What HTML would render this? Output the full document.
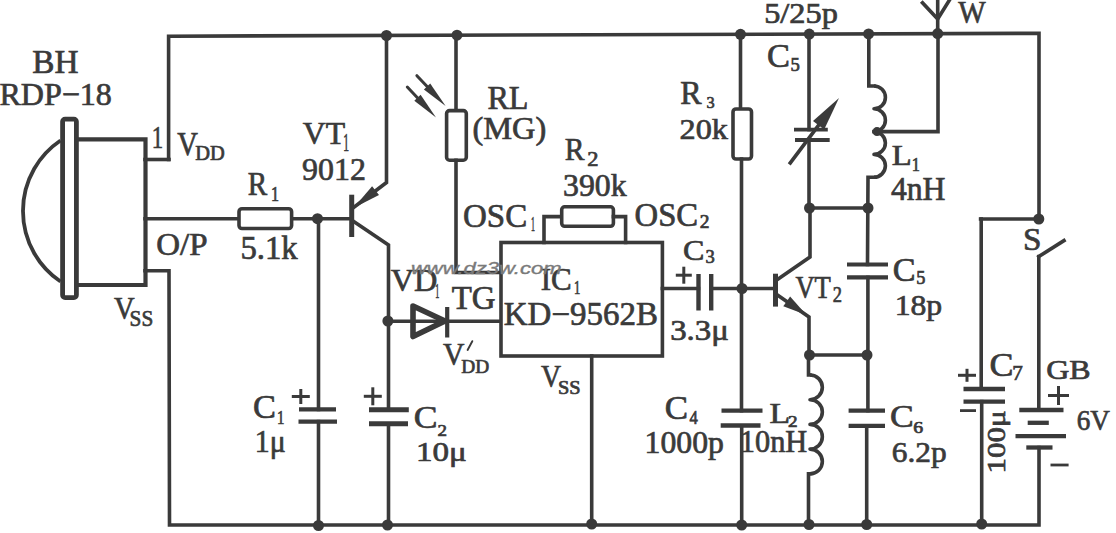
<!DOCTYPE html>
<html><head><meta charset="utf-8"><style>
html,body{margin:0;padding:0;background:#fff;}
body{width:1116px;height:533px;overflow:hidden;}
svg{display:block;}
</style></head><body>
<svg width="1116" height="533" viewBox="0 0 1116 533">
<rect width="1116" height="533" fill="#fff"/>
<path d="M168.6 159.5 L168.6 36.2 L1039.0 33.3 L1039.0 219.0" fill="none" stroke="#3a3a3a" stroke-width="3.6" stroke-linecap="square" stroke-linejoin="miter"/>
<path d="M145.0 159.5 L169.0 159.5" fill="none" stroke="#3a3a3a" stroke-width="3.6" stroke-linecap="square" stroke-linejoin="miter"/>
<path d="M145.0 218.7 L239.0 218.7" fill="none" stroke="#3a3a3a" stroke-width="3.6" stroke-linecap="square" stroke-linejoin="miter"/>
<path d="M291.6 218.7 L352.0 218.7" fill="none" stroke="#3a3a3a" stroke-width="3.6" stroke-linecap="square" stroke-linejoin="miter"/>
<path d="M145.0 270.7 L169.0 270.7 L169.5 525.0 L1039.0 525.0 L1039.0 447.6" fill="none" stroke="#3a3a3a" stroke-width="3.6" stroke-linecap="square" stroke-linejoin="miter"/>
<rect x="62.6" y="119.1" width="13.8" height="178.5" rx="2.5" fill="#fff" stroke="#3a3a3a" stroke-width="4.8"/>
<path d="M76.4 139.3 L145.5 139.3 L145.5 285.0 L76.4 285.0" fill="none" stroke="#3a3a3a" stroke-width="4.2" stroke-linecap="butt" stroke-linejoin="miter"/>
<path d="M60.5 140.5 A85 85 0 0 0 60.5 281.5" fill="none" stroke="#3a3a3a" stroke-width="3.8" stroke-linecap="butt" stroke-linejoin="round"/>
<rect x="239.0" y="208.7" width="52.6" height="19.8" rx="3" fill="#fff" stroke="#3a3a3a" stroke-width="3.6"/>
<circle cx="317.5" cy="218.7" r="5.5" fill="#3a3a3a"/>
<path d="M318.5 218.7 L318.5 409.4" fill="none" stroke="#3a3a3a" stroke-width="3.6" stroke-linecap="square" stroke-linejoin="miter"/>
<path d="M318.5 421.6 L318.5 525.0" fill="none" stroke="#3a3a3a" stroke-width="3.6" stroke-linecap="square" stroke-linejoin="miter"/>
<path d="M299.0 409.4 L336.0 409.4" fill="none" stroke="#3a3a3a" stroke-width="4.3" stroke-linecap="butt" stroke-linejoin="miter"/>
<path d="M298.5 421.6 L337.0 421.6" fill="none" stroke="#3a3a3a" stroke-width="4.3" stroke-linecap="butt" stroke-linejoin="miter"/>
<circle cx="318.5" cy="525.5" r="5.5" fill="#3a3a3a"/>
<path d="M351.7 194.7 L351.7 237.0" fill="none" stroke="#3a3a3a" stroke-width="5" stroke-linecap="butt" stroke-linejoin="miter"/>
<path d="M353.0 208.0 L386.5 182.5 L386.5 35.5" fill="none" stroke="#3a3a3a" stroke-width="3.6" stroke-linecap="square" stroke-linejoin="miter"/>
<polygon points="353.5,208.0 379.0,195.1 372.1,186.3" fill="#3a3a3a" stroke="#3a3a3a" stroke-width="0" stroke-linejoin="round"/>
<path d="M353.0 221.0 L388.5 245.0 L388.5 409.8" fill="none" stroke="#3a3a3a" stroke-width="3.6" stroke-linecap="square" stroke-linejoin="miter"/>
<circle cx="386.5" cy="35.5" r="5.5" fill="#3a3a3a"/>
<circle cx="387.9" cy="321.0" r="5.5" fill="#3a3a3a"/>
<path d="M369.0 409.8 L408.8 409.8" fill="none" stroke="#3a3a3a" stroke-width="5" stroke-linecap="butt" stroke-linejoin="miter"/>
<path d="M369.0 423.8 L408.0 423.8" fill="none" stroke="#3a3a3a" stroke-width="5" stroke-linecap="butt" stroke-linejoin="miter"/>
<path d="M388.5 423.8 L388.5 525.0" fill="none" stroke="#3a3a3a" stroke-width="3.6" stroke-linecap="square" stroke-linejoin="miter"/>
<circle cx="387.5" cy="525.0" r="5.5" fill="#3a3a3a"/>
<path d="M387.9 321.3 L501.0 321.3" fill="none" stroke="#3a3a3a" stroke-width="3.6" stroke-linecap="square" stroke-linejoin="miter"/>
<path d="M413 306 L445 321 L413 336.5 Z" fill="none" stroke="#3a3a3a" stroke-width="5.6" stroke-linecap="butt" stroke-linejoin="round"/>
<path d="M447.2 307.0 L447.2 337.5" fill="none" stroke="#3a3a3a" stroke-width="4.2" stroke-linecap="butt" stroke-linejoin="miter"/>
<circle cx="457.0" cy="35.2" r="5.5" fill="#3a3a3a"/>
<path d="M456.0 35.2 L456.0 110.6" fill="none" stroke="#3a3a3a" stroke-width="3.6" stroke-linecap="square" stroke-linejoin="miter"/>
<rect x="446.6" y="110.6" width="19.7" height="49.6" rx="3" fill="#fff" stroke="#3a3a3a" stroke-width="3.6"/>
<path d="M456.0 160.2 L456.0 272.5 L501.0 272.5" fill="none" stroke="#3a3a3a" stroke-width="3.6" stroke-linecap="square" stroke-linejoin="miter"/>
<path d="M416.9 75.7 L430.0 89.5" fill="none" stroke="#3a3a3a" stroke-width="3.0" stroke-linecap="round" stroke-linejoin="miter"/>
<polygon points="445.6,106.1 430.2,83.5 423.9,89.4" fill="#3a3a3a" stroke="#3a3a3a" stroke-width="0" stroke-linejoin="round"/>
<path d="M407.3 87.0 L420.0 100.5" fill="none" stroke="#3a3a3a" stroke-width="3.0" stroke-linecap="round" stroke-linejoin="miter"/>
<polygon points="436.0,117.4 420.6,94.8 414.3,100.7" fill="#3a3a3a" stroke="#3a3a3a" stroke-width="0" stroke-linejoin="round"/>
<rect x="501.0" y="242.5" width="161.4" height="113.5" rx="0" fill="#fff" stroke="#3a3a3a" stroke-width="3.6"/>
<path d="M544.0 242.5 L544.0 216.6 L561.7 216.6" fill="none" stroke="#3a3a3a" stroke-width="3.6" stroke-linecap="square" stroke-linejoin="miter"/>
<rect x="561.7" y="206.8" width="51.7" height="19.5" rx="3" fill="#fff" stroke="#3a3a3a" stroke-width="3.6"/>
<path d="M613.4 216.6 L625.6 216.6 L625.6 242.5" fill="none" stroke="#3a3a3a" stroke-width="3.6" stroke-linecap="square" stroke-linejoin="miter"/>
<path d="M591.7 356.0 L591.7 525.0" fill="none" stroke="#3a3a3a" stroke-width="3.6" stroke-linecap="square" stroke-linejoin="miter"/>
<circle cx="591.7" cy="524.0" r="5.5" fill="#3a3a3a"/>
<path d="M662.4 288.5 L698.5 288.5" fill="none" stroke="#3a3a3a" stroke-width="3.6" stroke-linecap="square" stroke-linejoin="miter"/>
<path d="M698.5 274.0 L698.5 310.5" fill="none" stroke="#3a3a3a" stroke-width="4.4" stroke-linecap="butt" stroke-linejoin="miter"/>
<path d="M711.2 274.0 L711.2 310.5" fill="none" stroke="#3a3a3a" stroke-width="4.4" stroke-linecap="butt" stroke-linejoin="miter"/>
<path d="M711.2 288.5 L776.0 288.5" fill="none" stroke="#3a3a3a" stroke-width="3.6" stroke-linecap="square" stroke-linejoin="miter"/>
<circle cx="740.5" cy="34.3" r="5.5" fill="#3a3a3a"/>
<path d="M740.5 34.3 L740.5 109.0" fill="none" stroke="#3a3a3a" stroke-width="3.6" stroke-linecap="square" stroke-linejoin="miter"/>
<rect x="733.0" y="109.0" width="18.5" height="50.0" rx="3" fill="#fff" stroke="#3a3a3a" stroke-width="3.6"/>
<path d="M741.5 159.0 L741.5 410.6" fill="none" stroke="#3a3a3a" stroke-width="3.6" stroke-linecap="square" stroke-linejoin="miter"/>
<circle cx="742.0" cy="288.5" r="5.5" fill="#3a3a3a"/>
<path d="M721.5 410.6 L762.5 410.6" fill="none" stroke="#3a3a3a" stroke-width="4.3" stroke-linecap="butt" stroke-linejoin="miter"/>
<path d="M720.7 425.5 L760.5 425.5" fill="none" stroke="#3a3a3a" stroke-width="4.3" stroke-linecap="butt" stroke-linejoin="miter"/>
<path d="M741.7 425.9 L741.7 525.0" fill="none" stroke="#3a3a3a" stroke-width="3.6" stroke-linecap="square" stroke-linejoin="miter"/>
<circle cx="741.7" cy="525.0" r="5.5" fill="#3a3a3a"/>
<path d="M775.5 273.7 L775.5 306.6" fill="none" stroke="#3a3a3a" stroke-width="5" stroke-linecap="butt" stroke-linejoin="miter"/>
<path d="M776.0 280.5 L810.0 257.0 L810.0 208.0" fill="none" stroke="#3a3a3a" stroke-width="3.6" stroke-linecap="square" stroke-linejoin="miter"/>
<path d="M776.0 294.0 L809.0 317.0 L809.0 355.0" fill="none" stroke="#3a3a3a" stroke-width="3.6" stroke-linecap="square" stroke-linejoin="miter"/>
<polygon points="806.5,315.0 790.1,296.4 783.3,306.3" fill="#3a3a3a" stroke="#3a3a3a" stroke-width="0" stroke-linejoin="round"/>
<circle cx="809.3" cy="34.1" r="5.5" fill="#3a3a3a"/>
<path d="M809.0 34.1 L809.0 129.6" fill="none" stroke="#3a3a3a" stroke-width="3.6" stroke-linecap="square" stroke-linejoin="miter"/>
<path d="M809.0 140.0 L809.0 208.0" fill="none" stroke="#3a3a3a" stroke-width="3.6" stroke-linecap="square" stroke-linejoin="miter"/>
<path d="M794.0 129.6 L827.8 129.6" fill="none" stroke="#3a3a3a" stroke-width="3.8" stroke-linecap="butt" stroke-linejoin="miter"/>
<path d="M795.0 140.0 L829.7 140.0" fill="none" stroke="#3a3a3a" stroke-width="3.8" stroke-linecap="butt" stroke-linejoin="miter"/>
<path d="M790.3 162.9 L830.0 110.0" fill="none" stroke="#3a3a3a" stroke-width="3.6" stroke-linecap="square" stroke-linejoin="miter"/>
<polygon points="839.0,98.1 813.0,121.1 824.2,129.5" fill="#3a3a3a" stroke="#3a3a3a" stroke-width="0" stroke-linejoin="round"/>
<circle cx="809.5" cy="208.0" r="5.5" fill="#3a3a3a"/>
<circle cx="868.0" cy="208.0" r="5.5" fill="#3a3a3a"/>
<path d="M809.0 208.0 L868.0 208.0" fill="none" stroke="#3a3a3a" stroke-width="3.6" stroke-linecap="square" stroke-linejoin="miter"/>
<circle cx="868.6" cy="33.9" r="5.5" fill="#3a3a3a"/>
<path d="M868.8 33.9 L868.8 86.0 L874.0 86.0" fill="none" stroke="#3a3a3a" stroke-width="3.6" stroke-linecap="square" stroke-linejoin="miter"/>
<path d="M874.0 86.0 A11.40 11.40 0 0 1 874.0 108.8 A11.40 11.40 0 0 1 874.0 131.6 A11.40 11.40 0 0 1 874.0 154.4 A11.40 11.40 0 0 1 874.0 177.2" fill="none" stroke="#3a3a3a" stroke-width="3.6" stroke-linecap="butt" stroke-linejoin="round"/>
<path d="M874.0 177.2 L868.0 177.2 L867.5 264.5" fill="none" stroke="#3a3a3a" stroke-width="3.6" stroke-linecap="square" stroke-linejoin="miter"/>
<circle cx="877.0" cy="131.6" r="4.5" fill="#3a3a3a"/>
<path d="M874.0 131.6 L938.0 131.6 L938.0 33.6" fill="none" stroke="#3a3a3a" stroke-width="3.6" stroke-linecap="square" stroke-linejoin="miter"/>
<circle cx="937.7" cy="33.6" r="5.5" fill="#3a3a3a"/>
<path d="M937.7 0.0 L937.7 33.6" fill="none" stroke="#3a3a3a" stroke-width="3.6" stroke-linecap="square" stroke-linejoin="miter"/>
<path d="M922.5 2.8 L937.7 19.0 L949.5 0.0" fill="none" stroke="#3a3a3a" stroke-width="3.6" stroke-linecap="square" stroke-linejoin="miter"/>
<path d="M847.0 264.5 L888.0 264.5" fill="none" stroke="#3a3a3a" stroke-width="4.2" stroke-linecap="butt" stroke-linejoin="miter"/>
<path d="M847.0 277.4 L888.0 277.4" fill="none" stroke="#3a3a3a" stroke-width="4.2" stroke-linecap="butt" stroke-linejoin="miter"/>
<path d="M867.9 277.4 L867.9 410.6" fill="none" stroke="#3a3a3a" stroke-width="3.6" stroke-linecap="square" stroke-linejoin="miter"/>
<circle cx="809.5" cy="355.0" r="5.5" fill="#3a3a3a"/>
<circle cx="867.0" cy="355.0" r="5.5" fill="#3a3a3a"/>
<path d="M809.0 355.0 L867.5 355.0" fill="none" stroke="#3a3a3a" stroke-width="3.6" stroke-linecap="square" stroke-linejoin="miter"/>
<path d="M808.5 355.0 L808.5 375.0 L810.0 375.0" fill="none" stroke="#3a3a3a" stroke-width="3.6" stroke-linecap="square" stroke-linejoin="miter"/>
<path d="M810.0 375.0 A12.35 12.35 0 0 1 810.0 399.7 A12.35 12.35 0 0 1 810.0 424.4 A12.35 12.35 0 0 1 810.0 449.1 A12.35 12.35 0 0 1 810.0 473.8" fill="none" stroke="#3a3a3a" stroke-width="3.6" stroke-linecap="butt" stroke-linejoin="round"/>
<path d="M810.0 473.8 L808.5 473.8 L808.5 525.0" fill="none" stroke="#3a3a3a" stroke-width="3.6" stroke-linecap="square" stroke-linejoin="miter"/>
<circle cx="809.0" cy="524.5" r="5.5" fill="#3a3a3a"/>
<path d="M848.6 410.6 L885.0 410.6" fill="none" stroke="#3a3a3a" stroke-width="4.3" stroke-linecap="butt" stroke-linejoin="miter"/>
<path d="M848.6 425.9 L885.0 425.9" fill="none" stroke="#3a3a3a" stroke-width="4.3" stroke-linecap="butt" stroke-linejoin="miter"/>
<path d="M866.7 425.9 L866.7 525.0" fill="none" stroke="#3a3a3a" stroke-width="3.6" stroke-linecap="square" stroke-linejoin="miter"/>
<circle cx="866.7" cy="524.5" r="5.5" fill="#3a3a3a"/>
<circle cx="1038.8" cy="219.0" r="5.5" fill="#3a3a3a"/>
<path d="M980.6 219.0 L1038.8 219.0" fill="none" stroke="#3a3a3a" stroke-width="3.6" stroke-linecap="square" stroke-linejoin="miter"/>
<path d="M981.2 219.0 L981.2 389.0" fill="none" stroke="#3a3a3a" stroke-width="3.6" stroke-linecap="square" stroke-linejoin="miter"/>
<path d="M963.5 389.0 L1005.0 389.0" fill="none" stroke="#3a3a3a" stroke-width="4.3" stroke-linecap="butt" stroke-linejoin="miter"/>
<path d="M963.5 401.6 L1005.0 401.6" fill="none" stroke="#3a3a3a" stroke-width="4.3" stroke-linecap="butt" stroke-linejoin="miter"/>
<path d="M981.7 401.6 L981.7 524.0" fill="none" stroke="#3a3a3a" stroke-width="3.6" stroke-linecap="square" stroke-linejoin="miter"/>
<circle cx="981.7" cy="524.0" r="5.5" fill="#3a3a3a"/>
<path d="M1038.8 256.6 L1064.0 240.6" fill="none" stroke="#3a3a3a" stroke-width="3.6" stroke-linecap="square" stroke-linejoin="miter"/>
<path d="M1038.8 256.6 L1038.8 410.0" fill="none" stroke="#3a3a3a" stroke-width="3.6" stroke-linecap="square" stroke-linejoin="miter"/>
<path d="M1019.3 410.0 L1063.5 410.0" fill="none" stroke="#3a3a3a" stroke-width="4.3" stroke-linecap="butt" stroke-linejoin="miter"/>
<path d="M1027.7 422.8 L1048.8 422.8" fill="none" stroke="#3a3a3a" stroke-width="4.3" stroke-linecap="butt" stroke-linejoin="miter"/>
<path d="M1015.5 436.1 L1066.0 436.1" fill="none" stroke="#3a3a3a" stroke-width="4.3" stroke-linecap="butt" stroke-linejoin="miter"/>
<path d="M1026.3 447.5 L1052.5 447.5" fill="none" stroke="#3a3a3a" stroke-width="4.3" stroke-linecap="butt" stroke-linejoin="miter"/>
<path d="M291.8 396.5 L309.8 396.5" fill="none" stroke="#3a3a3a" stroke-width="3" stroke-linecap="butt" stroke-linejoin="miter"/>
<path d="M300.8 389.0 L300.8 404.0" fill="none" stroke="#3a3a3a" stroke-width="3" stroke-linecap="butt" stroke-linejoin="miter"/>
<path d="M363.8 396.3 L381.8 396.3" fill="none" stroke="#3a3a3a" stroke-width="3" stroke-linecap="butt" stroke-linejoin="miter"/>
<path d="M372.8 387.3 L372.8 405.3" fill="none" stroke="#3a3a3a" stroke-width="3" stroke-linecap="butt" stroke-linejoin="miter"/>
<path d="M675.8 275.2 L691.8 275.2" fill="none" stroke="#3a3a3a" stroke-width="3" stroke-linecap="butt" stroke-linejoin="miter"/>
<path d="M683.8 266.7 L683.8 283.7" fill="none" stroke="#3a3a3a" stroke-width="3" stroke-linecap="butt" stroke-linejoin="miter"/>
<path d="M958.0 375.3 L976.0 375.3" fill="none" stroke="#3a3a3a" stroke-width="3" stroke-linecap="butt" stroke-linejoin="miter"/>
<path d="M967.0 368.8 L967.0 381.8" fill="none" stroke="#3a3a3a" stroke-width="3" stroke-linecap="butt" stroke-linejoin="miter"/>
<path d="M960.0 410.6 L976.0 410.6" fill="none" stroke="#3a3a3a" stroke-width="2.8" stroke-linecap="butt" stroke-linejoin="miter"/>
<path d="M1048.0 395.5 L1069.0 395.5" fill="none" stroke="#3a3a3a" stroke-width="3" stroke-linecap="butt" stroke-linejoin="miter"/>
<path d="M1058.5 386.0 L1058.5 405.0" fill="none" stroke="#3a3a3a" stroke-width="3" stroke-linecap="butt" stroke-linejoin="miter"/>
<path d="M1050.5 465.0 L1068.6 465.0" fill="none" stroke="#3a3a3a" stroke-width="2.8" stroke-linecap="butt" stroke-linejoin="miter"/>
<text transform="translate(32.35 73.28) scale(1.0084 1)" font-size="33.03" font-family='"Liberation Serif", serif'  fill="#3a3a3a" stroke="#3a3a3a" stroke-width="0.7">BH</text>
<text transform="translate(-0.61 105.33) scale(0.9928 1)" font-size="32.30" font-family='"Liberation Serif", serif'  fill="#3a3a3a" stroke="#3a3a3a" stroke-width="0.7">RDP−18</text>
<text transform="translate(151.71 147.85) scale(0.7103 1)" font-size="32.12" font-family='"Liberation Serif", serif'  fill="#3a3a3a" stroke="#3a3a3a" stroke-width="0.7">1</text>
<text transform="translate(177.26 154.96) scale(0.8741 1)" font-size="32.69" font-family='"Liberation Serif", serif'  fill="#3a3a3a" stroke="#3a3a3a" stroke-width="0.7">V</text>
<text transform="translate(195.14 160.45) scale(1.0218 1)" font-size="20.00" font-family='"Liberation Serif", serif'  fill="#3a3a3a" stroke="#3a3a3a" stroke-width="0.7">DD</text>
<text transform="translate(302.73 144.36) scale(0.9774 1)" font-size="32.54" font-family='"Liberation Serif", serif'  fill="#3a3a3a" stroke="#3a3a3a" stroke-width="0.7">VT</text>
<text transform="translate(343.17 150.55) scale(0.4510 1)" font-size="25.61" font-family='"Liberation Serif", serif'  fill="#3a3a3a" stroke="#3a3a3a" stroke-width="0.7">1</text>
<text transform="translate(302.09 180.43) scale(0.9879 1)" font-size="32.30" font-family='"Liberation Serif", serif'  fill="#3a3a3a" stroke="#3a3a3a" stroke-width="0.7">9012</text>
<text transform="translate(247.68 195.25) scale(0.8917 1)" font-size="32.67" font-family='"Liberation Serif", serif'  fill="#3a3a3a" stroke="#3a3a3a" stroke-width="0.7">R</text>
<text transform="translate(270.99 201.05) scale(0.8028 1)" font-size="20.00" font-family='"Liberation Serif", serif'  fill="#3a3a3a" stroke="#3a3a3a" stroke-width="0.7">1</text>
<text transform="translate(240.39 259.46) scale(0.9971 1)" font-size="32.82" font-family='"Liberation Serif", serif'  fill="#3a3a3a" stroke="#3a3a3a" stroke-width="0.7">5.1k</text>
<text transform="translate(156.33 254.94) scale(1.0512 1)" font-size="31.34" font-family='"Liberation Serif", serif'  fill="#3a3a3a" stroke="#3a3a3a" stroke-width="0.7">O/P</text>
<text transform="translate(113.96 318.88) scale(0.9116 1)" font-size="31.34" font-family='"Liberation Serif", serif'  fill="#3a3a3a" stroke="#3a3a3a" stroke-width="0.7">V</text>
<text transform="translate(129.56 326.01) scale(0.8872 1)" font-size="24.03" font-family='"Liberation Serif", serif'  fill="#3a3a3a" stroke="#3a3a3a" stroke-width="0.7">SS</text>
<text transform="translate(252.97 418.11) scale(1.0194 1)" font-size="33.73" font-family='"Liberation Serif", serif'  fill="#3a3a3a" stroke="#3a3a3a" stroke-width="0.7">C</text>
<text transform="translate(277.08 423.65) scale(0.7698 1)" font-size="19.39" font-family='"Liberation Serif", serif'  fill="#3a3a3a" stroke="#3a3a3a" stroke-width="0.7">1</text>
<text transform="translate(254.82 452.29) scale(0.9615 1)" font-size="30.97" font-family='"Liberation Serif", serif'  fill="#3a3a3a" stroke="#3a3a3a" stroke-width="0.7">1μ</text>
<text transform="translate(487.39 109.25) scale(0.9705 1)" font-size="33.13" font-family='"Liberation Serif", serif'  fill="#3a3a3a" stroke="#3a3a3a" stroke-width="0.7">RL</text>
<text transform="translate(472.39 138.52) scale(1.0208 1)" font-size="31.76" font-family='"Liberation Serif", serif'  fill="#3a3a3a" stroke="#3a3a3a" stroke-width="0.7">(MG)</text>
<text transform="translate(564.86 160.25) scale(0.9147 1)" font-size="32.37" font-family='"Liberation Serif", serif'  fill="#3a3a3a" stroke="#3a3a3a" stroke-width="0.7">R</text>
<text transform="translate(587.34 166.35) scale(1.1165 1)" font-size="20.15" font-family='"Liberation Serif", serif'  fill="#3a3a3a" stroke="#3a3a3a" stroke-width="0.7">2</text>
<text transform="translate(563.02 195.94) scale(1.0242 1)" font-size="31.06" font-family='"Liberation Serif", serif'  fill="#3a3a3a" stroke="#3a3a3a" stroke-width="0.7">390k</text>
<text transform="translate(463.03 226.61) scale(0.9791 1)" font-size="33.73" font-family='"Liberation Serif", serif'  fill="#3a3a3a" stroke="#3a3a3a" stroke-width="0.7">OSC</text>
<text transform="translate(530.88 231.35) scale(0.3944 1)" font-size="20.00" font-family='"Liberation Serif", serif'  fill="#3a3a3a" stroke="#3a3a3a" stroke-width="0.7">1</text>
<text transform="translate(634.54 225.92) scale(1.0005 1)" font-size="32.69" font-family='"Liberation Serif", serif'  fill="#3a3a3a" stroke="#3a3a3a" stroke-width="0.7">OSC</text>
<text transform="translate(699.67 228.45) scale(1.0636 1)" font-size="18.33" font-family='"Liberation Serif", serif'  fill="#3a3a3a" stroke="#3a3a3a" stroke-width="0.7">2</text>
<text transform="translate(390.73 291.08) scale(1.0315 1)" font-size="31.34" font-family='"Liberation Serif", serif'  fill="#3a3a3a" stroke="#3a3a3a" stroke-width="0.7">VD</text>
<text transform="translate(435.16 298.25) scale(0.3935 1)" font-size="20.76" font-family='"Liberation Serif", serif'  fill="#3a3a3a" stroke="#3a3a3a" stroke-width="0.7">1</text>
<text transform="translate(451.69 308.72) scale(1.0017 1)" font-size="32.84" font-family='"Liberation Serif", serif'  fill="#3a3a3a" stroke="#3a3a3a" stroke-width="0.7">TG</text>
<text transform="translate(442.95 364.97) scale(0.9260 1)" font-size="32.09" font-family='"Liberation Serif", serif'  fill="#3a3a3a" stroke="#3a3a3a" stroke-width="0.7">V</text>
<path d="M472.3 341.2 L467.6 350.0" fill="none" stroke="#3a3a3a" stroke-width="1.9" stroke-linecap="round" stroke-linejoin="miter"/>
<text transform="translate(461.27 372.65) scale(1.0302 1)" font-size="18.78" font-family='"Liberation Serif", serif'  fill="#3a3a3a" stroke="#3a3a3a" stroke-width="0.7">DD</text>
<text transform="translate(540.67 289.63) scale(0.9657 1)" font-size="32.09" font-family='"Liberation Serif", serif'  fill="#3a3a3a" stroke="#3a3a3a" stroke-width="0.7">IC</text>
<text transform="translate(573.97 294.45) scale(0.7030 1)" font-size="18.03" font-family='"Liberation Serif", serif'  fill="#3a3a3a" stroke="#3a3a3a" stroke-width="0.7">1</text>
<text transform="translate(503.76 325.12) scale(0.9953 1)" font-size="33.13" font-family='"Liberation Serif", serif'  fill="#3a3a3a" stroke="#3a3a3a" stroke-width="0.7">KD−9562B</text>
<text transform="translate(541.07 387.17) scale(0.8681 1)" font-size="32.09" font-family='"Liberation Serif", serif'  fill="#3a3a3a" stroke="#3a3a3a" stroke-width="0.7">V</text>
<text transform="translate(558.02 393.96) scale(1.0599 1)" font-size="19.25" font-family='"Liberation Serif", serif'  fill="#3a3a3a" stroke="#3a3a3a" stroke-width="0.7">SS</text>
<text transform="translate(413.73 428.12) scale(1.0946 1)" font-size="32.54" font-family='"Liberation Serif", serif'  fill="#3a3a3a" stroke="#3a3a3a" stroke-width="0.7">C</text>
<text transform="translate(437.50 435.95) scale(1.1097 1)" font-size="17.12" font-family='"Liberation Serif", serif'  fill="#3a3a3a" stroke="#3a3a3a" stroke-width="0.7">2</text>
<text transform="translate(416.04 460.59) scale(1.1727 1)" font-size="28.18" font-family='"Liberation Serif", serif'  fill="#3a3a3a" stroke="#3a3a3a" stroke-width="0.7">10μ</text>
<text transform="translate(680.29 103.55) scale(0.9762 1)" font-size="32.75" font-family='"Liberation Serif", serif'  fill="#3a3a3a" stroke="#3a3a3a" stroke-width="0.7">R</text>
<text transform="translate(706.41 108.28) scale(0.9383 1)" font-size="17.46" font-family='"Liberation Serif", serif'  fill="#3a3a3a" stroke="#3a3a3a" stroke-width="0.7">3</text>
<text transform="translate(679.60 138.85) scale(1.0719 1)" font-size="30.07" font-family='"Liberation Serif", serif'  fill="#3a3a3a" stroke="#3a3a3a" stroke-width="0.7">20k</text>
<text transform="translate(683.07 259.76) scale(1.0919 1)" font-size="29.40" font-family='"Liberation Serif", serif'  fill="#3a3a3a" stroke="#3a3a3a" stroke-width="0.7">C</text>
<text transform="translate(705.42 263.47) scale(1.0359 1)" font-size="17.91" font-family='"Liberation Serif", serif'  fill="#3a3a3a" stroke="#3a3a3a" stroke-width="0.7">3</text>
<text transform="translate(670.17 339.68) scale(1.1283 1)" font-size="29.14" font-family='"Liberation Serif", serif'  fill="#3a3a3a" stroke="#3a3a3a" stroke-width="0.7">3.3μ</text>
<text transform="translate(664.85 419.02) scale(1.0584 1)" font-size="32.99" font-family='"Liberation Serif", serif'  fill="#3a3a3a" stroke="#3a3a3a" stroke-width="0.7">C</text>
<text transform="translate(689.52 423.95) scale(0.8885 1)" font-size="18.64" font-family='"Liberation Serif", serif'  fill="#3a3a3a" stroke="#3a3a3a" stroke-width="0.7">4</text>
<text transform="translate(644.55 453.03) scale(1.0159 1)" font-size="31.25" font-family='"Liberation Serif", serif'  fill="#3a3a3a" stroke="#3a3a3a" stroke-width="0.7">1000p</text>
<text transform="translate(764.21 22.84) scale(1.1387 1)" font-size="28.40" font-family='"Liberation Serif", serif'  fill="#3a3a3a" stroke="#3a3a3a" stroke-width="0.7">5/25p</text>
<text transform="translate(766.97 66.92) scale(1.0520 1)" font-size="32.69" font-family='"Liberation Serif", serif'  fill="#3a3a3a" stroke="#3a3a3a" stroke-width="0.7">C</text>
<text transform="translate(790.52 70.76) scale(0.9741 1)" font-size="19.25" font-family='"Liberation Serif", serif'  fill="#3a3a3a" stroke="#3a3a3a" stroke-width="0.7">5</text>
<text transform="translate(891.87 165.25) scale(1.0925 1)" font-size="29.92" font-family='"Liberation Serif", serif'  fill="#3a3a3a" stroke="#3a3a3a" stroke-width="0.7">L</text>
<text transform="translate(911.86 171.15) scale(0.8696 1)" font-size="18.79" font-family='"Liberation Serif", serif'  fill="#3a3a3a" stroke="#3a3a3a" stroke-width="0.7">1</text>
<text transform="translate(890.92 200.05) scale(0.9687 1)" font-size="32.73" font-family='"Liberation Serif", serif'  fill="#3a3a3a" stroke="#3a3a3a" stroke-width="0.7">4nH</text>
<text transform="translate(795.38 297.58) scale(0.8468 1)" font-size="31.49" font-family='"Liberation Serif", serif'  fill="#3a3a3a" stroke="#3a3a3a" stroke-width="0.7">VT</text>
<text transform="translate(832.72 302.05) scale(0.8306 1)" font-size="22.27" font-family='"Liberation Serif", serif'  fill="#3a3a3a" stroke="#3a3a3a" stroke-width="0.7">2</text>
<text transform="translate(892.68 280.82) scale(1.0466 1)" font-size="32.69" font-family='"Liberation Serif", serif'  fill="#3a3a3a" stroke="#3a3a3a" stroke-width="0.7">C</text>
<text transform="translate(916.25 284.17) scale(0.9948 1)" font-size="18.35" font-family='"Liberation Serif", serif'  fill="#3a3a3a" stroke="#3a3a3a" stroke-width="0.7">5</text>
<text transform="translate(894.65 314.93) scale(1.0451 1)" font-size="30.34" font-family='"Liberation Serif", serif'  fill="#3a3a3a" stroke="#3a3a3a" stroke-width="0.7">18p</text>
<text transform="translate(769.53 423.15) scale(1.1197 1)" font-size="30.23" font-family='"Liberation Serif", serif'  fill="#3a3a3a" stroke="#3a3a3a" stroke-width="0.7">L</text>
<text transform="translate(787.98 426.95) scale(1.1048 1)" font-size="17.42" font-family='"Liberation Serif", serif'  fill="#3a3a3a" stroke="#3a3a3a" stroke-width="0.7">2</text>
<text transform="translate(739.77 451.83) scale(0.9582 1)" font-size="31.70" font-family='"Liberation Serif", serif'  fill="#3a3a3a" stroke="#3a3a3a" stroke-width="0.7">10nH</text>
<text transform="translate(889.93 427.33) scale(1.1203 1)" font-size="31.79" font-family='"Liberation Serif", serif'  fill="#3a3a3a" stroke="#3a3a3a" stroke-width="0.7">C</text>
<text transform="translate(913.36 433.38) scale(1.1825 1)" font-size="16.72" font-family='"Liberation Serif", serif'  fill="#3a3a3a" stroke="#3a3a3a" stroke-width="0.7">6</text>
<text transform="translate(891.79 461.69) scale(1.0439 1)" font-size="30.06" font-family='"Liberation Serif", serif'  fill="#3a3a3a" stroke="#3a3a3a" stroke-width="0.7">6.2p</text>
<text transform="translate(958.35 23.39) scale(0.9400 1)" font-size="30.90" font-family='"Liberation Serif", serif'  fill="#3a3a3a" stroke="#3a3a3a" stroke-width="0.7">W</text>
<text transform="translate(1022.89 250.32) scale(1.0221 1)" font-size="32.54" font-family='"Liberation Serif", serif'  fill="#3a3a3a" stroke="#3a3a3a" stroke-width="0.7">S</text>
<text transform="translate(989.41 375.52) scale(1.0903 1)" font-size="32.99" font-family='"Liberation Serif", serif'  fill="#3a3a3a" stroke="#3a3a3a" stroke-width="0.7">C</text>
<text transform="translate(1012.27 380.05) scale(1.0152 1)" font-size="20.92" font-family='"Liberation Serif", serif'  fill="#3a3a3a" stroke="#3a3a3a" stroke-width="0.7">7</text>
<text transform="translate(1005.27 473.54) rotate(-90) scale(1.1853 1)" font-size="26.19" font-family='"Liberation Serif", serif' fill="#3a3a3a" stroke="#3a3a3a" stroke-width="0.7">100μ</text>
<text transform="translate(1046.17 378.97) scale(1.1404 1)" font-size="28.06" font-family='"Liberation Serif", serif'  fill="#3a3a3a" stroke="#3a3a3a" stroke-width="0.7">GB</text>
<text transform="translate(1076.76 430.31) scale(0.9360 1)" font-size="29.04" font-family='"Liberation Serif", serif'  fill="#3a3a3a" stroke="#3a3a3a" stroke-width="0.7">6V</text>
<text transform="translate(410.90 274.04) scale(1.3504 1)" font-size="16.33" font-family='"Liberation Sans", sans-serif' font-style="italic" fill="#7a7a7a" stroke="#7a7a7a" stroke-width="0.35">www.dz3w.com</text>
</svg>
</body></html>
